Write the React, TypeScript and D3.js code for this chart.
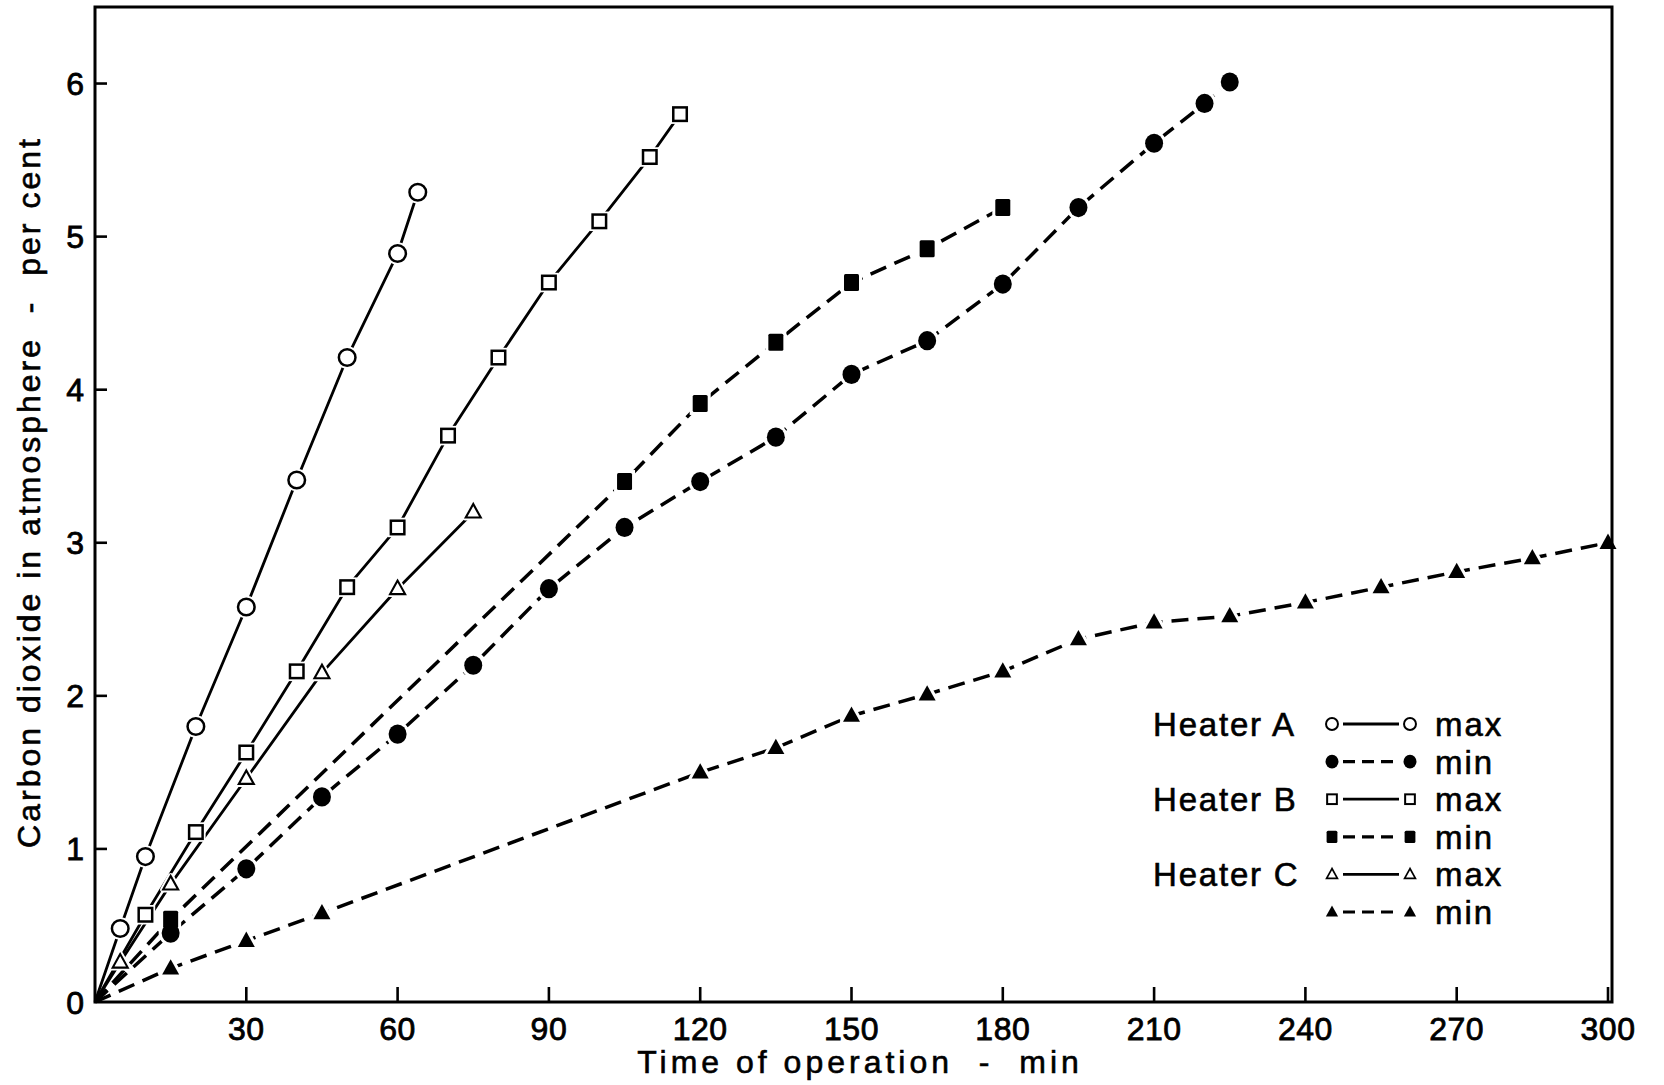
import React from 'react';
import * as d3 from 'd3';

const W = 1664;
const H = 1085;

// Time of operation (min) and CO2 concentration (per cent) for each heater setting
const heaterAMaxTime = [0, 5, 10, 20, 30, 40, 50, 60, 64];
const heaterAMaxCO2 = [0, 0.48, 0.95, 1.8, 2.58, 3.41, 4.21, 4.89, 5.29];

const heaterAMinTime = [0, 15, 30, 45, 60, 75, 90, 105, 120, 135, 150, 165, 180, 195, 210, 220, 225];
const heaterAMinCO2 = [0, 0.45, 0.87, 1.34, 1.75, 2.2, 2.7, 3.1, 3.4, 3.69, 4.1, 4.32, 4.69, 5.19, 5.61, 5.87, 6.01];

const heaterBMaxTime = [0, 10, 20, 30, 40, 50, 60, 70, 80, 90, 100, 110, 116];
const heaterBMaxCO2 = [0, 0.57, 1.11, 1.63, 2.16, 2.71, 3.1, 3.7, 4.21, 4.7, 5.1, 5.52, 5.8];

const heaterBMinTime = [0, 15, 105, 120, 135, 150, 165, 180];
const heaterBMinCO2 = [0, 0.54, 3.4, 3.91, 4.31, 4.7, 4.92, 5.19];

const heaterCMaxTime = [0, 5, 15, 30, 45, 60, 75];
const heaterCMaxCO2 = [0, 0.26, 0.77, 1.46, 2.15, 2.7, 3.2];

const heaterCMinTime = [0, 15, 30, 45, 120, 135, 150, 165, 180, 195, 210, 225, 240, 255, 270, 285, 300];
const heaterCMinCO2 = [0, 0.22, 0.4, 0.58, 1.5, 1.66, 1.87, 2.01, 2.16, 2.37, 2.48, 2.52, 2.61, 2.71, 2.81, 2.9, 3.0];

const xTickValues = [30, 60, 90, 120, 150, 180, 210, 240, 270, 300];
const yTickValues = [0, 1, 2, 3, 4, 5, 6];

const heaterNames = ['Heater A', 'Heater B', 'Heater C'];
const settingNames = ['max', 'min'];

type Marker = 'circleOpen' | 'circleFilled' | 'squareOpen' | 'squareFilled' | 'triOpen' | 'triFilled';

interface Series {
  time: number[];
  co2: number[];
  marker: Marker;
  dashed: boolean;
}

const series: Series[] = [
  { time: heaterAMaxTime, co2: heaterAMaxCO2, marker: 'circleOpen', dashed: false },
  { time: heaterAMinTime, co2: heaterAMinCO2, marker: 'circleFilled', dashed: true },
  { time: heaterBMaxTime, co2: heaterBMaxCO2, marker: 'squareOpen', dashed: false },
  { time: heaterBMinTime, co2: heaterBMinCO2, marker: 'squareFilled', dashed: true },
  { time: heaterCMaxTime, co2: heaterCMaxCO2, marker: 'triOpen', dashed: false },
  { time: heaterCMinTime, co2: heaterCMinCO2, marker: 'triFilled', dashed: true },
];

const FONT = "'Liberation Sans', Arial, Helvetica, sans-serif";
const INK = '#000';

const x = d3.scaleLinear().domain([0, 300]).range([95, 1608]);
const y = d3.scaleLinear().domain([0, 6.5]).range([1002, 7]);

const DASH = '17 9';

function drawMarker(type: Marker, cx: number, cy: number, k: number, key: string, halo = 0) {
  const fillOpen = '#fff';
  const sw = 2.5 * Math.max(k, 0.8);
  const haloProps = halo > 0 ? { fill: '#fff', stroke: '#fff', strokeWidth: 2 * halo } : null;
  switch (type) {
    case 'circleOpen': {
      const r = 8.3 * k;
      return haloProps ? (
        <circle key={key} cx={cx} cy={cy} r={r} {...haloProps} />
      ) : (
        <circle key={key} cx={cx} cy={cy} r={r} fill={fillOpen} stroke={INK} strokeWidth={sw} />
      );
    }
    case 'circleFilled': {
      const rx = 9 * k;
      const ry = 9.6 * k;
      return haloProps ? (
        <ellipse key={key} cx={cx} cy={cy} rx={rx} ry={ry} {...haloProps} />
      ) : (
        <ellipse key={key} cx={cx} cy={cy} rx={rx} ry={ry} fill={INK} />
      );
    }
    case 'squareOpen': {
      const s = 13.5 * k;
      return haloProps ? (
        <rect key={key} x={cx - s / 2} y={cy - s / 2} width={s} height={s} {...haloProps} />
      ) : (
        <rect key={key} x={cx - s / 2} y={cy - s / 2} width={s} height={s} fill={fillOpen} stroke={INK} strokeWidth={sw} />
      );
    }
    case 'squareFilled': {
      const w = 15 * k;
      const h = 17 * k;
      return haloProps ? (
        <rect key={key} x={cx - w / 2} y={cy - h / 2} width={w} height={h} {...haloProps} />
      ) : (
        <rect key={key} x={cx - w / 2} y={cy - h / 2} width={w} height={h} rx={1.5} fill={INK} />
      );
    }
    case 'triOpen':
    case 'triFilled': {
      const s = (type === 'triOpen' ? 15 : 17) * k;
      const h = s * 0.9;
      const pts = `${cx},${cy - h * 0.6} ${cx - s / 2},${cy + h * 0.4} ${cx + s / 2},${cy + h * 0.4}`;
      if (haloProps) return <polygon key={key} points={pts} {...haloProps} strokeLinejoin="round" />;
      return type === 'triOpen' ? (
        <polygon key={key} points={pts} fill={fillOpen} stroke={INK} strokeWidth={sw * 0.85} strokeLinejoin="miter" />
      ) : (
        <polygon key={key} points={pts} fill={INK} />
      );
    }
  }
}

export default function App() {
  const pathFor = (s: Series) => {
    const pts: [number, number][] = s.time.map((t, i) => [x(t), y(s.co2[i])]);
    return d3.line()(pts) || '';
  };

  // legend geometry
  const legendTop = 724;
  const legendStep = 37.6;
  const legendLabelX = 1153;
  const legendM1 = 1332;
  const legendM2 = 1410;
  const legendTextX = 1435;

  return (
    <svg width={W} height={H} viewBox={`0 0 ${W} ${H}`} style={{ position: 'absolute', left: 0, top: 0, background: '#fff' }}>
      <rect x={0} y={0} width={W} height={H} fill="#fff" />

      {/* data lines */}
      <g fill="none" stroke={INK} strokeLinejoin="round">
        {series.map((s, i) => (
          <path
            key={`l${i}`}
            d={pathFor(s)}
            strokeWidth={s.dashed ? 3.5 : 2.8}
            strokeDasharray={s.dashed ? DASH : undefined}
          />
        ))}
      </g>

      {/* white gaps around markers */}
      <g>
        {series.map((s, i) =>
          s.time.slice(1).map((t, j) => drawMarker(s.marker, x(t), y(s.co2[j + 1]), 1, `h${i}-${j}`, 3))
        )}
      </g>

      {/* markers */}
      <g>
        {series.map((s, i) =>
          s.time.slice(1).map((t, j) => drawMarker(s.marker, x(t), y(s.co2[j + 1]), 1, `m${i}-${j}`))
        )}
      </g>

      {/* frame */}
      <rect x={x(0)} y={y(6.5)} width={x(300) - x(0) + 4} height={y(0) - y(6.5)} fill="none" stroke={INK} strokeWidth={3} />

      {/* ticks, pointing inward */}
      <g stroke={INK} strokeWidth={2.6}>
        {xTickValues.map((t) => (
          <line key={`xt${t}`} x1={x(t)} x2={x(t)} y1={y(0)} y2={y(0) - 15} />
        ))}
        {yTickValues.filter((v) => v > 0).map((v) => (
          <line key={`yt${v}`} x1={x(0)} x2={x(0) + 12} y1={y(v)} y2={y(v)} />
        ))}
      </g>

      {/* tick labels */}
      <g fontFamily={FONT} fontSize={32} fill={INK} stroke={INK} strokeWidth={0.8}>
        {xTickValues.map((t) => (
          <text key={`xl${t}`} x={x(t)} y={1040} textAnchor="middle" letterSpacing={0.5}>
            {t}
          </text>
        ))}
        {yTickValues.map((v) => (
          <text key={`yl${v}`} x={84} y={y(v) + 11.5} textAnchor="end">
            {v}
          </text>
        ))}
      </g>

      {/* axis titles */}
      <g fontFamily={FONT} fontSize={32} fill={INK} stroke={INK} strokeWidth={0.6}>
        <text x={860} y={1073} textAnchor="middle" letterSpacing={4}>
          {'Time of operation \u00a0-\u00a0 min'}
        </text>
        <text transform="translate(40,492) rotate(-90)" textAnchor="middle" letterSpacing={3}>
          {'Carbon dioxide in atmosphere \u00a0-\u00a0 per cent'}
        </text>
      </g>

      {/* legend */}
      <g fontFamily={FONT} fontSize={33} fill={INK}>
        {series.map((s, i) => {
          const cy = legendTop + i * legendStep;
          return (
            <g key={`lg${i}`}>
              {i % 2 === 0 && (
                <text x={legendLabelX} y={cy + 12} letterSpacing={1.8} stroke={INK} strokeWidth={0.6}>
                  {heaterNames[i / 2]}
                </text>
              )}
              <line
                x1={legendM1 + 11}
                x2={legendM2 - 11}
                y1={cy}
                y2={cy}
                stroke={INK}
                strokeWidth={s.dashed ? 3.2 : 2.8}
                strokeDasharray={s.dashed ? '12 7' : undefined}
              />
              {drawMarker(s.marker, legendM1, cy, 0.72, `lm1${i}`)}
              {drawMarker(s.marker, legendM2, cy, 0.72, `lm2${i}`)}
              <text x={legendTextX} y={cy + 12} letterSpacing={2} stroke={INK} strokeWidth={0.6}>
                {settingNames[i % 2]}
              </text>
            </g>
          );
        })}
      </g>
    </svg>
  );
}
